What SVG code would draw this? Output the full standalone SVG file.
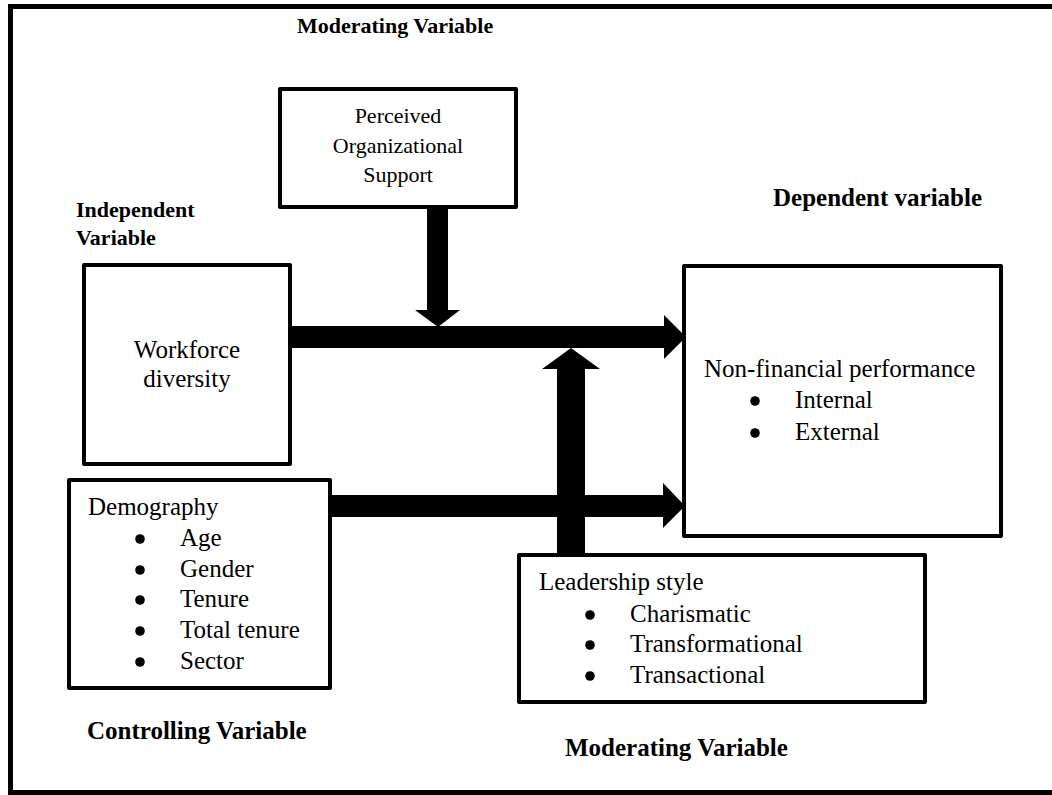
<svg xmlns="http://www.w3.org/2000/svg" width="1052" height="795" viewBox="0 0 1052 795">
<style>
.box{fill:#fff;stroke:#000;stroke-width:4;stroke-linejoin:round}
.frame{fill:none;stroke:#000;stroke-width:5}
.t{font-family:"Liberation Serif","Times New Roman",serif;font-size:25px;fill:#000}
.s{font-size:22px}
.b{font-weight:bold}
.m{text-anchor:middle}
.dot{fill:#000}
.arrow{fill:#000;stroke:none}
</style>
<rect width="1052" height="795" fill="#fff"/>
<path class="frame" d="M1060,6.5 H10.5 V792.5 H1060"/>

<g id="label-moderating-top"><text class="t s b" x="297" y="33">Moderating Variable</text></g>
<g id="label-independent"><text class="t s b" x="76" y="217">Independent</text><text class="t s b" x="76" y="245">Variable</text></g>
<g id="label-dependent"><text class="t b" x="773" y="206">Dependent variable</text></g>
<g id="label-controlling"><text class="t b" x="87" y="739">Controlling Variable</text></g>
<g id="label-moderating-bottom"><text class="t b" x="565" y="756">Moderating Variable</text></g>

<g id="connectors">
  <polygon class="arrow" points="290,326 664,326 664,315 686,337 664,359 664,348 290,348"/>
  <polygon class="arrow" points="330,495 663,495 663,483 685,506 663,528 663,517 330,517"/>
  <polygon class="arrow" points="427,207 448,207 448,310 460,310 438,327 415,310 427,310"/>
  <polygon class="arrow" points="557,555 557,369 542,369 571,348 600,369 585,369 585,555"/>
</g>

<g id="node-pos">
  <rect class="box" x="280" y="89" width="236" height="118"/>
  <text class="t s m" x="398" y="123">Perceived</text>
  <text class="t s m" x="398" y="153">Organizational</text>
  <text class="t s m" x="398" y="182">Support</text>
</g>

<g id="node-workforce">
  <rect class="box" x="84" y="265" width="206" height="199"/>
  <text class="t m" x="187" y="358">Workforce</text>
  <text class="t m" x="187" y="387">diversity</text>
</g>

<g id="node-demography">
  <rect class="box" x="69" y="480" width="261" height="208"/>
  <text class="t" x="88" y="515">Demography</text>
  <circle class="dot" cx="140" cy="539" r="4.8"/><text class="t" x="180" y="546">Age</text>
  <circle class="dot" cx="140" cy="570" r="4.8"/><text class="t" x="180" y="577">Gender</text>
  <circle class="dot" cx="140" cy="600" r="4.8"/><text class="t" x="180" y="607">Tenure</text>
  <circle class="dot" cx="140" cy="631" r="4.8"/><text class="t" x="180" y="638">Total tenure</text>
  <circle class="dot" cx="140" cy="662" r="4.8"/><text class="t" x="180" y="669">Sector</text>
</g>

<g id="node-performance">
  <rect class="box" x="684" y="266" width="317" height="270"/>
  <text class="t" x="704" y="377">Non-financial performance</text>
  <circle class="dot" cx="755" cy="401" r="4.8"/><text class="t" x="795" y="408">Internal</text>
  <circle class="dot" cx="755" cy="433" r="4.8"/><text class="t" x="795" y="440">External</text>
</g>

<g id="node-leadership">
  <rect class="box" x="519" y="555" width="406" height="147"/>
  <text class="t" x="539" y="590">Leadership style</text>
  <circle class="dot" cx="590" cy="615" r="4.8"/><text class="t" x="630" y="622">Charismatic</text>
  <circle class="dot" cx="590" cy="645" r="4.8"/><text class="t" x="630" y="652">Transformational</text>
  <circle class="dot" cx="590" cy="676" r="4.8"/><text class="t" x="630" y="683">Transactional</text>
</g>
</svg>
